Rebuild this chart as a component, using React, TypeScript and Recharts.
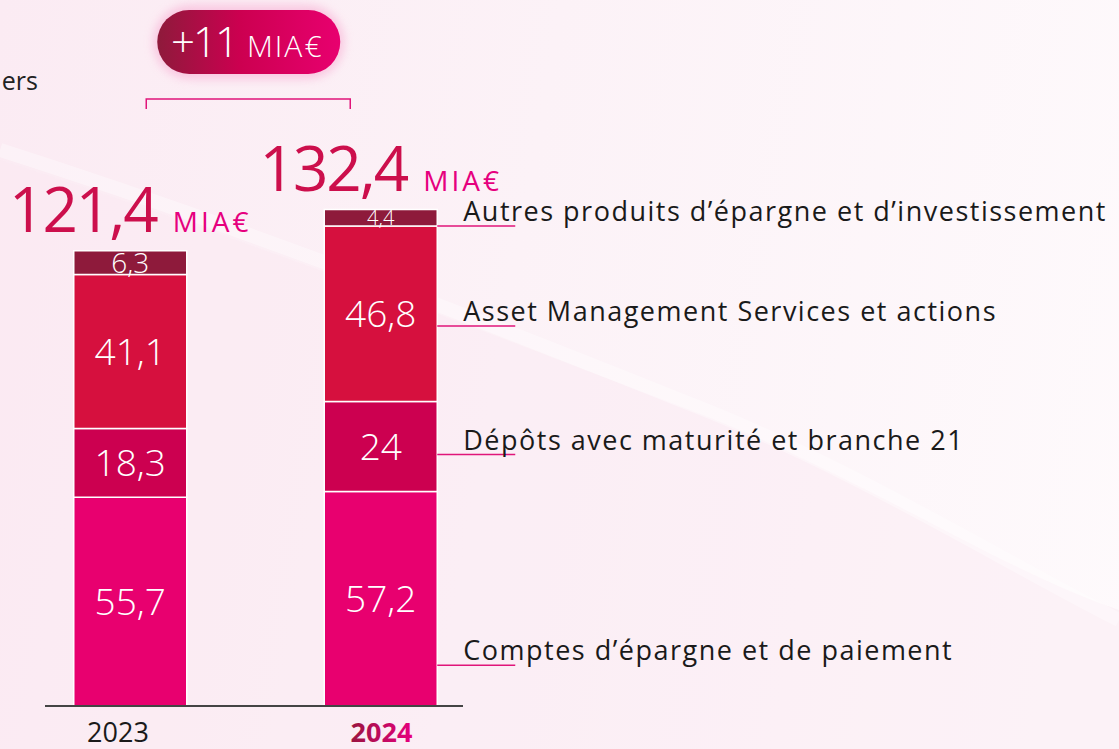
import React from 'react';
import { BarChart, Bar, XAxis, YAxis, LabelList } from 'recharts';

// encours clients (MIA€)
const years = ['2023', '2024'];
const comptes = [55.7, 57.2];
const depots = [18.3, 24];
const asset = [41.1, 46.8];
const autres = [6.3, 4.4];
const totals = [121.4, 132.4];

const seriesNames = [
  'Comptes d’épargne et de paiement',
  'Dépôts avec maturité et branche 21',
  'Asset Management Services et actions',
  'Autres produits d’épargne et d’investissement',
];

const data = years.map((year, i) => ({
  year,
  comptes: comptes[i],
  depots: depots[i],
  asset: asset[i],
  autres: autres[i],
  total: totals[i],
}));

const FONT = '"Open Sans", "Noto Sans", sans-serif';

// where the leader line sits inside the last bar's segment (fraction of its height)
const series = [
  { key: 'comptes', name: seriesNames[0], color: '#e8006f', lineAt: 0.81 },
  { key: 'depots', name: seriesNames[1], color: '#cc0050', lineAt: 0.59 },
  { key: 'asset', name: seriesNames[2], color: '#d6103e', lineAt: 0.57 },
  { key: 'autres', name: seriesNames[3], color: '#8e1a3b', lineAt: 1 },
];

const fmt = (v: number) => String(v).replace('.', ',');

const ValueLabel = (props: any) => {
  const { x, y, width, height, value } = props;
  // small slices get a smaller figure so it stays inside the slice
  const size = Math.min(37, height * 1.1 + 2);
  return (
    <text
      x={x + width / 2}
      y={y + height / 2}
      dy={size * 0.36}
      textAnchor='middle'
      fill='#fff'
      fontFamily={FONT}
      fontWeight={300}
      fontSize={size}
    >
      {fmt(value)}
    </text>
  );
};

const sideLabel = (name: string, lineAt: number) => (props: any) => {
  const { x, y, width, height, value } = props;
  if (value !== years[years.length - 1]) return null;
  const ly = y + height * lineAt;
  const x0 = x + width;
  return (
    <g>
      <line x1={x0} x2={x0 + 78} y1={ly} y2={ly} stroke='#e0157a' strokeWidth={1.5} />
      <text
        x={x0 + 26}
        y={ly - 5}
        fill='#1a1a1a'
        fontFamily={FONT}
        fontSize={27}
        letterSpacing={1.5}
      >
        {name}
      </text>
    </g>
  );
};

const TotalLabel = (props: any) => {
  const { x, y, width, value } = props;
  const last = value === totals[totals.length - 1];
  const diff = totals[totals.length - 1] - totals[0];
  return (
    <g>
      <text x={x + width / 2} y={y - 19} textAnchor='middle' fontFamily={FONT}>
        <tspan fill='#cc0f4c' fontSize={62} fontWeight={500} letterSpacing={-2}>
          {fmt(value)}
        </tspan>
        <tspan fill='#e6007e' fontSize={28} dx={16} letterSpacing={3}>
          MIA€
        </tspan>
      </text>
      {last && (
        <g>
          <rect x={x - 171} y={5} width={191} height={74} rx={37} fill='#f7a6cf' opacity={0.55} filter='url(#glow)' />
          <rect x={x - 167} y={10} width={183} height={64} rx={32} fill='url(#pillGrad)' />
          <text x={x - 77} y={57} textAnchor='middle' fill='#fff' fontFamily={FONT}>
            <tspan fontSize={42} fontWeight={300} letterSpacing={-2}>
              +{Math.round(diff)}
            </tspan>
            <tspan fontSize={30} fontWeight={300} dx={10} letterSpacing={2}>
              MIA€
            </tspan>
          </text>
          <path
            d={`M${x - 178},109 V99 H${x + 26} V109`}
            fill='none'
            stroke='#e0157a'
            strokeWidth={1.5}
          />
        </g>
      )}
    </g>
  );
};

const YearTick = (props: any) => {
  const { x, y, payload } = props;
  const last = payload.value === years[years.length - 1];
  return (
    <text
      x={x + (last ? 1 : -12)}
      y={y}
      dy={28}
      textAnchor='middle'
      fontFamily={FONT}
      fontSize={27}
      fontWeight={last ? 700 : 400}
      fill={last ? 'url(#yearGrad)' : '#1a1a1a'}
    >
      {payload.value}
    </text>
  );
};

const App = () => {
  return (
    <div
      style={{
        position: 'absolute',
        left: 0,
        top: 0,
        width: 1119,
        height: 749,
        overflow: 'hidden',
        background: 'linear-gradient(100deg, #fbebf3 0%, #fcf2f7 45%, #fefafc 100%)',
      }}
    >
      <svg width={1119} height={749} style={{ position: 'absolute', left: 0, top: 0 }}>
        <path
          d='M0,160 C250,240 480,330 690,410 C850,470 1000,570 1119,610 L1119,749 L0,749 Z'
          fill='#fbe9f2'
          opacity={0.45}
        />
        <path
          d='M0,150 C250,230 480,320 680,400 C850,465 1000,560 1119,620'
          fill='none'
          stroke='#ffffff'
          strokeWidth={14}
          opacity={0.35}
        />
        <text x={38} y={90} textAnchor='end' fill='#222' fontFamily={FONT} fontSize={25}>
          ers
        </text>
      </svg>
      <div style={{ position: 'absolute', left: 0, top: 0 }}>
        <BarChart
          width={1119}
          height={749}
          data={data}
          margin={{ top: 181, right: 656, bottom: 0, left: 45 }}
        >
          <defs>
            <linearGradient id='pillGrad' x1='0' y1='0' x2='1' y2='0'>
              <stop offset='0%' stopColor='#8e1a3b' />
              <stop offset='45%' stopColor='#cc0050' />
              <stop offset='100%' stopColor='#e8006f' />
            </linearGradient>
            <linearGradient id='yearGrad' x1='0' y1='0' x2='1' y2='0'>
              <stop offset='0%' stopColor='#9a1540' />
              <stop offset='100%' stopColor='#e6007e' />
            </linearGradient>
            <filter id='glow' x='-20%' y='-40%' width='140%' height='180%'>
              <feGaussianBlur stdDeviation='5' />
            </filter>
          </defs>
          <XAxis
            dataKey='year'
            height={43}
            padding={{ left: -40.25, right: -42.75 }}
            axisLine={{ stroke: '#444', strokeWidth: 2 }}
            tickLine={false}
            tick={<YearTick />}
            interval={0}
          />
          <YAxis hide domain={[0, 140]} />
          {series.map((s, si) => (
            <Bar
              key={s.key}
              dataKey={s.key}
              name={s.name}
              stackId='a'
              fill={s.color}
              stroke='#ffffff'
              strokeWidth={1.5}
              barSize={113}
              isAnimationActive={false}
            >
              <LabelList dataKey={s.key} content={<ValueLabel />} />
              <LabelList dataKey='year' content={sideLabel(s.name, s.lineAt)} />
              {si === series.length - 1 && <LabelList dataKey='total' content={<TotalLabel />} />}
            </Bar>
          ))}
        </BarChart>
      </div>
    </div>
  );
};

export default App;
